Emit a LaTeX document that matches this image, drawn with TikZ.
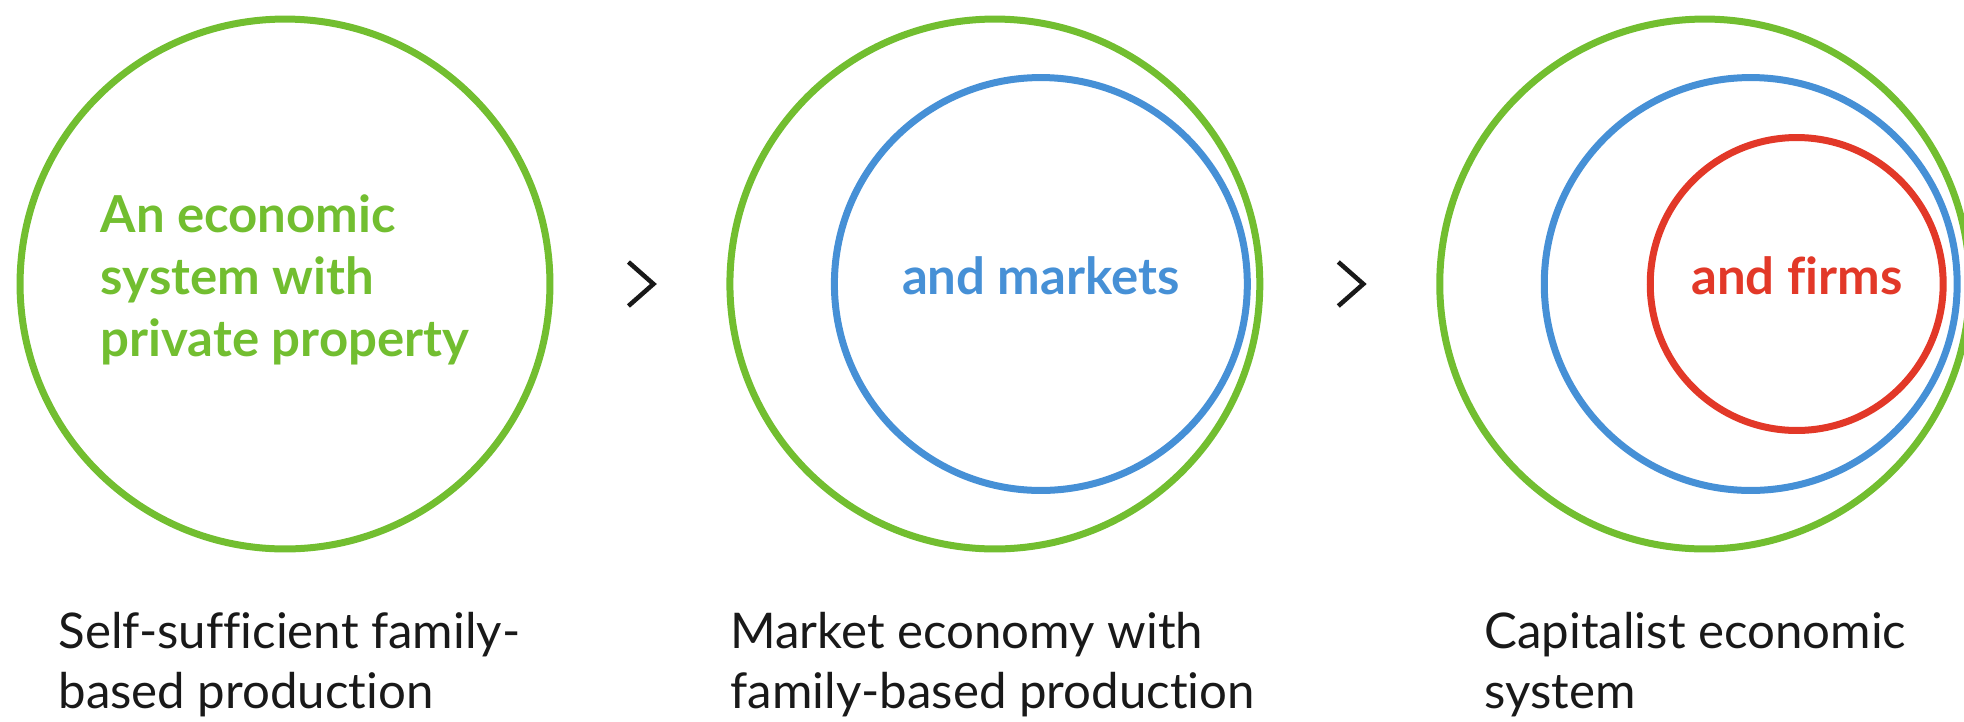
\documentclass[tikz,border=0pt]{standalone}
\usepackage{fontspec}
\setmainfont{Lato}[Ligatures=NoCommon]
\usetikzlibrary{positioning}
\definecolor{ringgreen}{RGB}{114,190,48}
\definecolor{ringblue}{RGB}{70,144,214}
\definecolor{ringred}{RGB}{226,56,40}
\begin{document}
\begin{tikzpicture}[x=0.02cm,y=-0.02cm,node distance=14.2cm,
		semithick]
		\tikzstyle{ring}=[circle,draw,inner sep=0pt,line width=0.14cm,text depth=0.34cm,
			font=\fontsize{29}{35.3}\selectfont\bfseries]
		\tikzstyle{caption}=[anchor=base west,align=left,inner sep=0pt,
			text=black!90,font=\fontsize{28}{34.1}\selectfont]
		\tikzstyle{chevron}=[line width=0.09cm,black!90,miter limit=10]
		
		\useasboundingbox (0,0) rectangle (1964,721);
		
		\node[ring,ringgreen,minimum size=10.6cm,align=left] (g1) at (285,284)
			{An economic\\system with\\private property};
		\node[ring,ringgreen,minimum size=10.6cm] (g2) [right of=g1] {};
		\node[ring,ringgreen,minimum size=10.6cm] (g3) [right of=g2] {};
		
		\node[ring,ringblue,minimum size=8.26cm] (b2) at ([xshift=0.92cm]g2.center) {and markets};
		\node[ring,ringblue,minimum size=8.26cm] (b3) at ([xshift=0.92cm]g3.center) {};
		\node[ring,ringred,minimum size=5.86cm] (r3) at ([xshift=0.92cm]b3.center) {and firms};
		
		% chevrons between the stages
		\coordinate (ch1) at ([xshift=2cm]g1.east);
		\coordinate (ch2) at ([xshift=2cm]g2.east);
		\draw[chevron] ([shift={(-25,-22)}]ch1) -- (ch1) -- ([shift={(-25,22)}]ch1);
		\draw[chevron] ([shift={(-25,-22)}]ch2) -- (ch2) -- ([shift={(-25,22)}]ch2);
		
		\node[caption] (c1) at (58,708) {Self-sufficient family-\\based production};
		\node[caption] (c2) at (730,708) {Market economy with\\family-based production};
		\node[caption] (c3) at (1484,708) {Capitalist economic\\system};
\end{tikzpicture}
\end{document}
